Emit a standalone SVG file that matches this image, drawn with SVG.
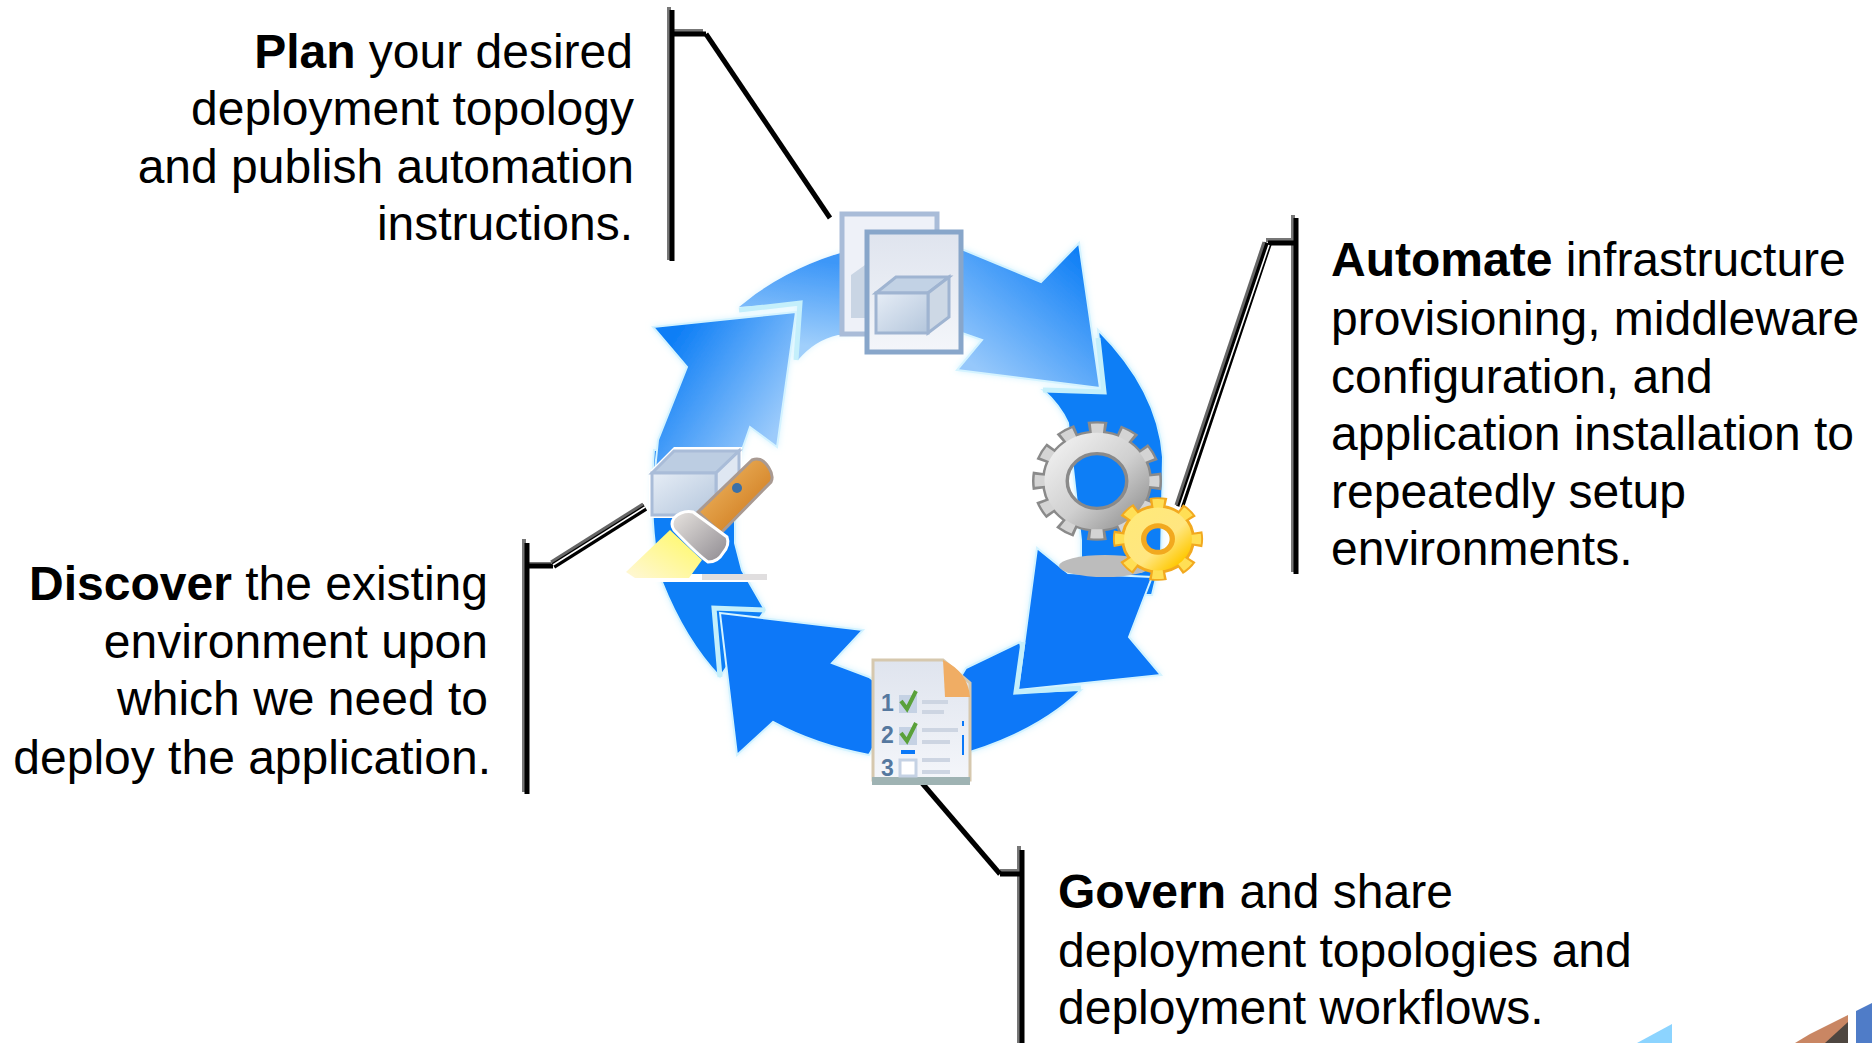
<svg xmlns="http://www.w3.org/2000/svg" width="1872" height="1043" viewBox="0 0 1872 1043">
<style>
text{font-family:"Liberation Sans",Arial,sans-serif;font-size:48px;fill:#000}
.b{font-weight:700}
.r{text-anchor:end}
.num{font-size:23px;font-weight:700;fill:#55789f}
.g{fill:none;stroke:#777;stroke-width:4}
.k{fill:none;stroke:#000;stroke-width:5}
.thin{fill:none;stroke:#000;stroke-width:5}
.dbl{fill:none;stroke:#000;stroke-width:8}
.dbg{fill:none;stroke:#666;stroke-width:3}
.dbi{fill:none;stroke:#fff;stroke-width:1.6}
.arr{stroke:#d4f3ff;stroke-width:2;stroke-linejoin:miter}
.hl{fill:none;stroke:#c4effb;stroke-width:5;stroke-linejoin:miter}
.line{fill:none;stroke:#cdd5e2;stroke-width:4}
.tick{fill:none;stroke:#5aa13a;stroke-width:4}
</style>
<defs>
<linearGradient id="gt" gradientUnits="userSpaceOnUse" x1="985" y1="375" x2="1085" y2="255"><stop offset="0" stop-color="#96c8fb"/><stop offset="1" stop-color="#0d7ef6"/></linearGradient>
<linearGradient id="gt2" gradientUnits="userSpaceOnUse" x1="800" y1="345" x2="810" y2="260"><stop offset="0" stop-color="#a0cffb"/><stop offset="1" stop-color="#3d97f8"/></linearGradient>
<linearGradient id="gl" gradientUnits="userSpaceOnUse" x1="790" y1="410" x2="675" y2="335"><stop offset="0" stop-color="#9ccbfb"/><stop offset="1" stop-color="#0d7ef6"/></linearGradient>
<linearGradient id="gg" x1="0" y1="0" x2="1" y2="1"><stop offset="0" stop-color="#f0f0f0"/><stop offset=".55" stop-color="#cfcfcf"/><stop offset="1" stop-color="#969696"/></linearGradient>
<linearGradient id="gy" x1="0" y1="0" x2="1" y2="1"><stop offset="0" stop-color="#ffe97a"/><stop offset=".6" stop-color="#ffe680"/><stop offset="1" stop-color="#ffc800"/></linearGradient>
<linearGradient id="gb" x1="0" y1="0" x2="1" y2="1"><stop offset="0" stop-color="#e6edf6"/><stop offset="1" stop-color="#b4c6dc"/></linearGradient>
<linearGradient id="gf" x1="0" y1="0" x2="1" y2="1"><stop offset="0" stop-color="#f3bf6c"/><stop offset="1" stop-color="#c96f10"/></linearGradient>
<linearGradient id="gh" x1="0" y1="0" x2="1" y2="1"><stop offset="0" stop-color="#e8e4e0"/><stop offset="1" stop-color="#8e8a90"/></linearGradient>
<linearGradient id="gbeam" x1="1" y1="0" x2="0" y2="1"><stop offset="0" stop-color="#fff95e"/><stop offset="1" stop-color="#fff7d8"/></linearGradient>
<linearGradient id="gd" x1="0" y1="0" x2="0" y2="1"><stop offset="0" stop-color="#dfe4ee"/><stop offset="1" stop-color="#f4f6fa"/></linearGradient>
<filter id="glow" x="-10%" y="-10%" width="120%" height="120%"><feGaussianBlur in="SourceAlpha" stdDeviation="3" result="b"/><feFlood flood-color="#c8f0ff" flood-opacity=".7"/><feComposite in2="b" operator="in"/><feMerge><feMergeNode/><feMergeNode in="SourceGraphic"/></feMerge></filter>
</defs>
<rect width="1872" height="1043" fill="#fff"/>

<g id="cycle-arrows" filter="url(#glow)">
<path id="arrow-automate-shaft" class="arr" fill="#0d7ef6" d="M1043 390L1104 392L1098 330Q1158 390 1163 457L1161 557L1152 595L1081 595L1081 540L1068 423Q1060 405 1043 390Z"/>
<path id="arrow-plan-shaft" fill="url(#gt2)" d="M739 307Q785 268 850 250V335H838Q815 340 798 360V303Z"/>
<path id="arrow-plan" class="arr" fill="url(#gt)" d="M850 250L964 250L1041 282L1079 243L1100 388L957 370L982 340L962 333H850Z"/>
<path class="hl" d="M1043 390L1104 392L1098 338"/>
<path id="arrow-discover-lower" class="arr" fill="#0d7ef6" d="M654 450Q648 530 662 582Q685 640 720 677L765 610L742 570L735 543V450Z"/>
<path id="arrow-discover" class="arr" fill="url(#gl)" d="M796 312L653 327L687 367L658 440L652 500H730L735 470L750 427L777 447Z"/>
<path class="hl" d="M739 310L800 303L796 360"/>
<path id="arrow-govern-tail" class="arr" fill="#0a78f8" d="M966 668L1020 642L1030 692L1081 690Q1040 730 970 752L940 710Z"/>
<path id="arrow-govern" class="arr" fill="#0a78f8" d="M1018 690L1037 548L1068 573L1152 577L1129 637L1161 675Z"/>
<path class="hl" d="M1081 688L1016 692L1023 642"/>
<path id="arrow-left" class="arr" fill="#0a78f8" d="M720 613L863 630L832 663L869 677L900 700L869 755Q815 745 773 722L737 755Z"/>
<path class="hl" d="M765 610L714 608L720 677"/>
</g>

<g id="connectors">
<path class="g" d="M669 7V260M669 31H703"/>
<path class="k" d="M672 10V261M672 34H706"/>
<path class="thin" d="M706 34L830 218"/>
<path class="g" d="M1293 215V572M1293 240H1266"/>
<path class="k" d="M1296 218V574M1296 243H1268"/>
<path class="dbl" d="M1268 243L1180 507"/>
<path class="dbi" d="M1269 245L1180 507"/>
<path class="dbg" d="M1264 242L1176 505"/>
<path class="g" d="M524 539V792M524 564H551"/>
<path class="k" d="M527 543V794M527 566H553"/>
<path class="dbl" d="M553 565L645 507"/>
<path class="dbi" d="M553 565L645 507"/>
<path class="dbg" d="M551 562L643 504"/>
<path class="g" d="M1019 846V1043M1019 871H1000"/>
<path class="k" d="M1022 850V1043M1022 874H1000"/>
<path class="thin" d="M922 783L1000 874"/>
</g>

<g id="plan-node">
<rect x="842" y="214" width="95" height="120" fill="#eef1f8" stroke="#a9bcd8" stroke-width="5"/>
<path d="M851 275l14-10v53h-14z" fill="#c9d5e4"/>
<rect x="867" y="232" width="94" height="120" fill="url(#gd)" stroke="#88a6ca" stroke-width="5"/>
<path d="M876 293l20-16h53l-21 16z" fill="#c2d2e5" stroke="#9fb4d1" stroke-width="3"/>
<path d="M928 293l21-16v40l-21 16z" fill="#cdd8e5" stroke="#9fb4d1" stroke-width="3"/>
<rect x="876" y="293" width="52" height="40" fill="url(#gb)" stroke="#9fb4d1" stroke-width="3"/>
<text x="633" y="68" class="r"><tspan class="b">Plan</tspan> your desired</text>
</g>

<g id="automate-node">
<ellipse cx="1105" cy="566" rx="46" ry="11" fill="#bcbcbc"/>
<g transform="translate(1097 481) scale(1 .92)">
<circle r="58" fill="none" stroke="#8a8a8a" stroke-width="14" stroke-dasharray="18 12.37" stroke-dashoffset="9"/>
<circle r="41.5" fill="none" stroke="#8a8a8a" stroke-width="27"/>
<circle r="56" fill="none" stroke="#d4d4d4" stroke-width="13" stroke-dasharray="12 17.32" stroke-dashoffset="6"/>
<circle r="42" fill="none" stroke="url(#gg)" stroke-width="21"/>
</g>
<g transform="translate(1158 539) scale(.97 .9)">
<circle r="40" fill="none" stroke="#f2a91f" stroke-width="13" stroke-dasharray="16 15.42" stroke-dashoffset="8"/>
<circle r="25" fill="none" stroke="#f2a91f" stroke-width="26"/>
<circle r="39" fill="none" stroke="#ffdf55" stroke-width="11" stroke-dasharray="11 19.63" stroke-dashoffset="5.5"/>
<circle r="25" fill="none" stroke="url(#gy)" stroke-width="20"/>
<circle r="15.5" fill="none" stroke="#f2a91f" stroke-width="4"/>
</g>
<text x="1331" y="276"><tspan class="b">Automate</tspan> infrastructure</text>
</g>

<g id="discover-node">
<path d="M649 472L674 447H742V518H649Z" fill="#fff"/>
<path d="M652 473l22-22h65l-23 22z" fill="#bccde2" stroke="#a9bcd8" stroke-width="3"/>
<path d="M716 473l23-22v44l-23 20z" fill="#dfe7f2" stroke="#a9bcd8" stroke-width="3"/>
<rect x="652" y="473" width="64" height="42" fill="url(#gb)" stroke="#a9bcd8" stroke-width="3"/>
<rect x="640" y="574" width="130" height="8" fill="#fff"/>
<path d="M670 530L626 572L635 578H689L702 560Z" fill="url(#gbeam)"/>
<path d="M698 512L752 460Q762 456 769 468Q774 476 771 482L721 533Z" fill="url(#gf)" stroke="#a99a92" stroke-width="3"/>
<circle cx="737" cy="488" r="5" fill="#3a70a8"/>
<path d="M674 518Q682 510 693 512L727 537Q730 545 723 553Q718 562 708 562Q698 555 674 530Q670 524 674 518Z" fill="url(#gh)" stroke="#fff" stroke-width="3"/>
<rect x="702" y="574" width="65" height="6" fill="#e0dedf"/>
<text x="488" y="600" class="r"><tspan class="b">Discover</tspan> the existing</text>
</g>

<g id="govern-node">
<path d="M873 660H943L970 683V780H873Z" fill="url(#gd)" stroke="#d6c8ae" stroke-width="3"/>
<path d="M943 660Q968 672 970 697H945Z" fill="#f0ad64"/>
<rect x="872" y="777" width="98" height="8" fill="#9fb3b3"/>
<text x="881" y="711" class="num">1</text>
<text x="881" y="743" class="num">2</text>
<text x="881" y="776" class="num">3</text>
<rect x="899" y="695" width="18" height="18" fill="#c5d2e4"/><path class="tick" d="M901 701l6 8 9-18"/>
<rect x="899" y="727" width="18" height="18" fill="#c5d2e4"/><path class="tick" d="M901 733l6 8 9-18"/>
<rect x="900" y="760" width="16" height="16" fill="#fff" stroke="#c5d2e4" stroke-width="3"/>
<path class="line" d="M922 702h26M922 712h22M922 730h36M922 742h28M922 760h28M922 772h28"/>
<rect x="901" y="750" width="14" height="4" fill="#0a78f8"/>
<rect x="962" y="721" width="2" height="5" fill="#0a78f8"/>
<rect x="962" y="735" width="2" height="20" fill="#0a78f8"/>
<text x="1058" y="908"><tspan class="b">Govern</tspan> and share</text>
</g>

<g id="labels">
<text x="634" y="125" class="r">deployment topology</text>
<text x="634" y="183" class="r">and publish automation</text>
<text x="633" y="240" class="r">instructions.</text>
<text x="1331" y="335">provisioning, middleware</text>
<text x="1331" y="393">configuration, and</text>
<text x="1331" y="450">application installation to</text>
<text x="1331" y="508">repeatedly setup</text>
<text x="1331" y="565">environments.</text>
<text x="488" y="658" class="r">environment upon</text>
<text x="488" y="715" class="r">which we need to</text>
<text x="491" y="774" class="r">deploy the application.</text>
<text x="1058" y="967">deployment topologies and</text>
<text x="1058" y="1024">deployment workflows.</text>
</g>

<g id="corner-fragments">
<path d="M1637 1043L1672 1024V1043Z" fill="#8cd4ff"/>
<path d="M1795 1043L1810 1034L1848 1015V1043Z" fill="#c98663"/>
<path d="M1825 1043L1848 1022V1043Z" fill="#4e4640"/>
<path d="M1856 1011L1872 1003V1043H1856Z" fill="#4f7cc8"/>
</g>
</svg>
